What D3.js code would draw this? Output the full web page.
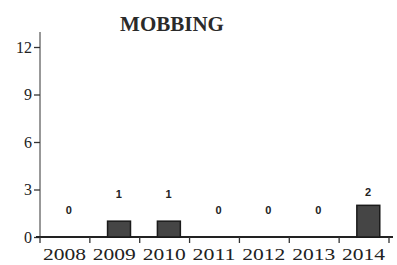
<!DOCTYPE html>
<html>
<head>
<meta charset="utf-8">
<script src="https://cdn.jsdelivr.net/npm/d3@7"></script>
<style>
  body { margin: 0; background: #fff; }
  svg { display: block; }
</style>
</head>
<body>
<svg></svg>
<script>
const years = ['2008', '2009', '2010', '2011', '2012', '2013', '2014'];
const counts = [0, 1, 1, 0, 0, 0, 2];
const yTicks = [0, 3, 6, 9, 12];

let width = 397;
let height = 265;
let margin = {top: 47, right: 8, bottom: 28, left: 40};

let data = years.map((yr, i) => ({year: yr, value: counts[i]}));

let svg = d3.select('svg')
  .attr('width', width)
  .attr('height', height);

// full-step bands, ticks sit on the band edges
let x = d3.scaleBand()
  .domain(years)
  .range([margin.left, width - margin.right])
  .padding(0);

let y = d3.scaleLinear()
  .domain([0, 12])
  .range([height - margin.bottom, margin.top]);

let step = x.step();
let barW = step * 0.46;
let barOff = step * 0.355;

svg.append('text')
  .attr('x', 172)
  .attr('y', 31)
  .attr('text-anchor', 'middle')
  .style('font-family', 'Liberation Serif, serif')
  .style('font-weight', 'bold')
  .style('font-size', '21px')
  .style('fill', '#2a2a2a')
  .text('MOBBING');

// y axis
let yAxis = svg.append('g')
  .attr('transform', `translate(${margin.left},0)`)
  .call(d3.axisLeft(y).tickValues(yTicks).tickSize(6).tickPadding(2));
yAxis.select('.domain')
  .attr('d', `M0,${y(0)}V${y(12) - 15}`)
  .attr('stroke', '#333');
yAxis.selectAll('.tick line').attr('stroke', '#333').attr('stroke-width', 1.3);
yAxis.selectAll('text')
  .style('font-family', 'Liberation Serif, serif')
  .style('font-size', '16px')
  .style('fill', '#222');

// x axis
let xAxis = svg.append('g')
  .attr('transform', `translate(0,${y(0)})`)
  .call(d3.axisBottom(x).tickSize(0).tickFormat(''));
xAxis.select('.domain')
  .attr('d', `M${margin.left - 4},0H${width - margin.right + 4}`)
  .attr('stroke', '#222')
  .attr('stroke-width', 1.8);
xAxis.selectAll('.edge')
  .data(years.concat(['end']))
  .enter().append('line')
  .attr('x1', (d, i) => i < years.length ? x(d) : x(years[i - 1]) + step)
  .attr('x2', (d, i) => i < years.length ? x(d) : x(years[i - 1]) + step)
  .attr('y1', 0).attr('y2', 6)
  .attr('stroke', '#333')
  .attr('stroke-width', 1.3);

svg.selectAll('.xlabel')
  .data(years)
  .enter().append('text')
  .attr('x', d => x(d) + step / 2 - 22)
  .attr('y', height - 5)
  .attr('textLength', 43)
  .attr('lengthAdjust', 'spacingAndGlyphs')
  .style('font-family', 'Liberation Serif, serif')
  .style('font-size', '17px')
  .style('fill', '#222')
  .text(d => d);

svg.selectAll('.bar')
  .data(data.filter(d => d.value > 0))
  .enter().append('rect')
  .attr('x', d => x(d.year) + barOff)
  .attr('y', d => y(d.value))
  .attr('width', barW)
  .attr('height', d => y(0) - y(d.value))
  .attr('fill', '#454545')
  .attr('stroke', '#1a1a1a')
  .attr('stroke-width', 1.5);

svg.selectAll('.val')
  .data(data)
  .enter().append('text')
  .attr('x', d => x(d.year) + step / 2 + 4)
  .attr('y', d => Math.max(y(d.value) - 23, y(2) - 9))
  .attr('text-anchor', 'middle')
  .style('font-family', 'Liberation Sans, sans-serif')
  .style('font-weight', 'bold')
  .style('font-size', '11px')
  .style('fill', '#222')
  .text(d => d.value);
</script>
</body>
</html>
